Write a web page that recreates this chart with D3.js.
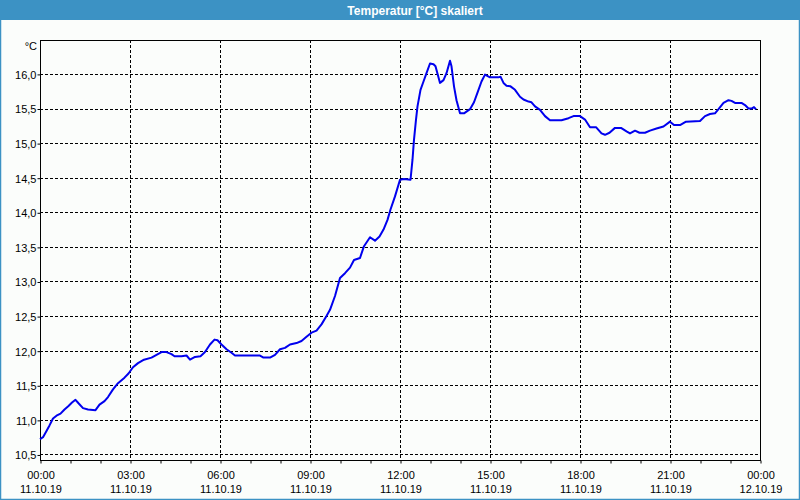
<!DOCTYPE html>
<html>
<head>
<meta charset="utf-8">
<script src="https://cdn.jsdelivr.net/npm/d3@7"></script>
<style>
  html, body { margin: 0; padding: 0; background: #fbfdfb; }
  svg { display: block; }
  text { font-family: "Liberation Sans", Arial, sans-serif; }
</style>
</head>
<body>
<svg id="chart" width="800" height="500"></svg>
<script>
// ---- data ----
const titleText = "Temperatur [°C] skaliert";
const unitLabel = "°C";
// minutes since 11.10.19 00:00
const minutes = [0,6,13,19,26,33,41,49,57,64,71,77,86,96,111,119,129,136,146,156,169,177,186,196,208,223,233,243,253,263,269,283,293,300,310,321,330,340,349,355,363,373,383,390,440,447,460,470,480,490,500,513,523,533,543,553,563,573,580,590,600,610,620,628,640,648,660,670,679,687,695,701,710,720,728,741,745,748,752,755,761,767,773,780,787,791,800,807,813,820,823,828,833,840,848,860,868,875,883,890,900,917,921,927,933,941,950,960,967,977,983,990,1000,1010,1020,1043,1057,1067,1080,1090,1100,1112,1123,1130,1139,1150,1162,1173,1180,1190,1199,1210,1220,1233,1247,1260,1268,1280,1292,1320,1330,1340,1350,1357,1367,1377,1383,1390,1403,1410,1417,1423,1428,1432];
const temps = [10.72,10.75,10.84,10.92,11.02,11.06,11.09,11.15,11.20,11.25,11.29,11.24,11.17,11.15,11.14,11.22,11.27,11.33,11.44,11.53,11.61,11.67,11.76,11.82,11.87,11.90,11.94,11.98,11.98,11.95,11.92,11.92,11.93,11.87,11.91,11.92,11.98,12.09,12.16,12.15,12.09,12.02,11.97,11.93,11.93,11.90,11.90,11.94,12.02,12.04,12.09,12.11,12.14,12.20,12.26,12.29,12.38,12.50,12.59,12.79,13.05,13.12,13.20,13.31,13.34,13.51,13.64,13.59,13.65,13.75,13.89,14.04,14.23,14.47,14.48,14.47,14.76,15.05,15.34,15.53,15.77,15.89,16.01,16.15,16.14,16.11,15.87,15.91,16.01,16.19,16.11,15.82,15.62,15.43,15.43,15.49,15.59,15.73,15.89,15.99,15.95,15.95,15.96,15.87,15.83,15.82,15.77,15.67,15.63,15.60,15.59,15.53,15.48,15.39,15.33,15.33,15.36,15.39,15.39,15.34,15.23,15.23,15.14,15.12,15.15,15.22,15.22,15.17,15.14,15.18,15.15,15.15,15.18,15.21,15.24,15.31,15.26,15.26,15.31,15.32,15.39,15.42,15.43,15.49,15.58,15.62,15.61,15.58,15.58,15.55,15.50,15.50,15.52,15.49];
const yTicks = [10.5,11.0,11.5,12.0,12.5,13.0,13.5,14.0,14.5,15.0,15.5,16.0];
const xTickMinutes = [0,180,360,540,720,900,1080,1260,1440];
const xTimeLabels = ["00:00","03:00","06:00","09:00","12:00","15:00","18:00","21:00","00:00"];
const xDateLabels = ["11.10.19","11.10.19","11.10.19","11.10.19","11.10.19","11.10.19","11.10.19","11.10.19","12.10.19"];
const xMinorMinutes = d3.range(0, 1441, 60);

// ---- layout ----
const W = 800, H = 500;
const L = 40, R = 760, T = 40, B = 460;
const svg = d3.select("#chart");

const x = d3.scaleLinear().domain([0, 1440]).range([L, R]);
const y = d3.scaleLinear().domain([10.42, 16.49]).range([B, T]);

// background
svg.append("rect").attr("x",0).attr("y",0).attr("width",W).attr("height",H).attr("fill","#fbfdfb");

// title bar
svg.append("rect").attr("x",0).attr("y",0).attr("width",W).attr("height",20).attr("fill","#3c92c4");
svg.append("text").attr("x",415).attr("y",14.5).attr("text-anchor","middle")
  .attr("fill","#ffffff").attr("font-weight","bold").attr("font-size","12px").text(titleText);

// window border
svg.append("path").attr("d","M0.5,20 V499.5 H799.5 V20").attr("fill","none").attr("stroke","#3c92c4").attr("stroke-width",1.5);

// grid lines
const g = svg.append("g");
g.selectAll("line.hg").data(yTicks).join("line")
  .attr("x1", L).attr("x2", R)
  .attr("y1", d => Math.round(y(d)) + 0.5).attr("y2", d => Math.round(y(d)) + 0.5)
  .attr("stroke","#000").attr("stroke-width",1).attr("stroke-dasharray","3,2");
g.selectAll("line.vg").data(xTickMinutes.slice(1, -1)).join("line")
  .attr("y1", T).attr("y2", B)
  .attr("x1", d => Math.round(x(d)) + 0.5).attr("x2", d => Math.round(x(d)) + 0.5)
  .attr("stroke","#000").attr("stroke-width",1).attr("stroke-dasharray","3,2");

// frame
svg.append("rect").attr("x", L + 0.5).attr("y", T + 0.5).attr("width", R - L).attr("height", B - T)
  .attr("fill","none").attr("stroke","#000").attr("stroke-width",1);

// x axis ticks (hourly)
const xAxis = d3.axisBottom(x).tickValues(xMinorMinutes).tickSize(3).tickFormat("");
svg.append("g").attr("transform", `translate(0.5,${B + 0.5})`).call(xAxis)
  .call(s => s.select(".domain").remove())
  .selectAll("line").attr("stroke","#000");

// x labels
const xl = svg.append("g").attr("font-size","11px").attr("fill","#000").attr("text-anchor","middle");
xl.selectAll("text.t").data(xTickMinutes).join("text")
  .attr("x", d => x(d) + 1).attr("y", 479).text((d,i) => xTimeLabels[i]);
xl.selectAll("text.d").data(xTickMinutes).join("text")
  .attr("x", d => x(d) + 1).attr("y", 493).text((d,i) => xDateLabels[i]);

// y axis ticks and labels
const yAxis = d3.axisLeft(y).tickValues(yTicks).tickSize(3).tickPadding(1)
  .tickFormat(d => d3.format(".1f")(d).replace(".", ","));
const ya = svg.append("g").attr("transform", `translate(${L + 0.5},0.5)`).call(yAxis);
ya.select(".domain").remove();
ya.selectAll("line").attr("stroke","#000");
ya.selectAll("text").attr("font-size","11px").attr("fill","#000")
  .attr("font-family","'Liberation Sans', Arial, sans-serif").attr("dy","0.35em");

// unit label
svg.append("text").attr("x", 37).attr("y", 50).attr("text-anchor","end")
  .attr("font-size","11px").attr("fill","#000").text(unitLabel);

// line
const line = d3.line().x((d,i) => x(minutes[i])).y(d => y(d));
svg.append("path").datum(temps).attr("d", line)
  .attr("fill","none").attr("stroke","#0000ee").attr("stroke-width",2).attr("stroke-linejoin","round");
</script>
</body>
</html>
